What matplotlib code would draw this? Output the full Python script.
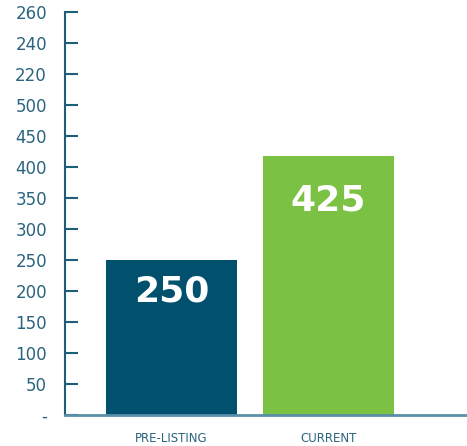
import matplotlib
matplotlib.use("Agg")
import matplotlib.pyplot as plt

categories = ["PRE-LISTING", "CURRENT"]
values = [250, 417]
value_labels = ["250", "425"]
ytick_values = [0, 50, 100, 150, 200, 250, 300, 350, 400, 450, 500, 550, 600, 650]
ytick_labels = ["-", "50", "100", "150", "200", "250", "300", "350", "400", "450", "500", "220", "240", "260"]

bar_colors = ["#00506e", "#7bc143"]
label_offsets = [-32, -44]  # pixels below bar top (text centre)

fig = plt.figure(figsize=(4.67, 4.46), dpi=100)
ax = fig.add_axes([65/467, 31/446, 401/467, 403/446])

x = list(range(len(categories)))
bars = ax.bar(x, values, width=0.834, color=bar_colors, zorder=2)

for b, lab, off in zip(bars, value_labels, label_offsets):
    ax.annotate(lab, (b.get_x() + b.get_width()/2, b.get_height()),
                xytext=(0, off), textcoords="offset pixels",
                ha="center", va="center", color="white",
                fontsize=26, fontweight="bold", family="DejaVu Sans")

ax.set_xlim(-0.678, 1.876)
ax.set_ylim(0, 650)
ax.set_yticks(ytick_values)
ax.set_yticklabels(ytick_labels)
ax.set_xticks(x)
ax.set_xticklabels(categories)

for s in ["top", "right"]:
    ax.spines[s].set_visible(False)
ax.spines["left"].set_color("#1f5e78")
ax.spines["left"].set_linewidth(1.5)
ax.spines["bottom"].set_color("#5a8fa8")
ax.spines["bottom"].set_linewidth(2)

ax.tick_params(axis="y", direction="in", length=9, width=1.5, color="#1f5e78",
               labelsize=12, labelcolor="#2a6480", pad=13)
ax.tick_params(axis="x", length=0, labelsize=8.5, labelcolor="#2a6480", pad=12)

fig.savefig("out.png", dpi=100)
